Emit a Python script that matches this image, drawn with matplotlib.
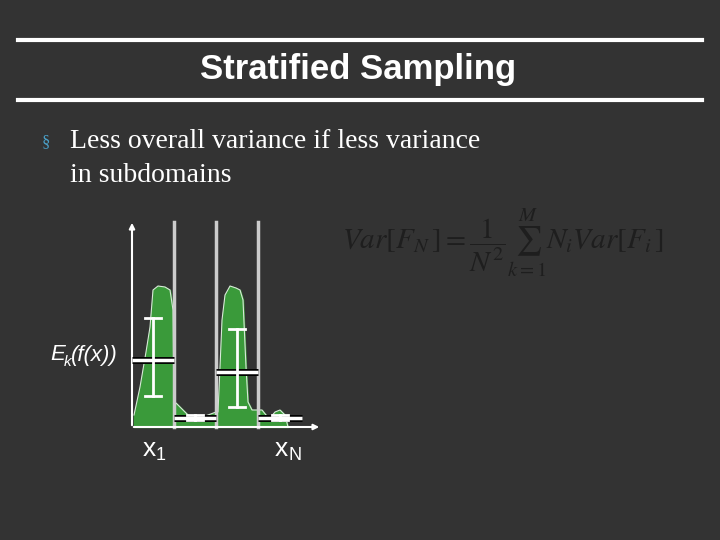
import numpy as np
import matplotlib.pyplot as plt

# density profile (x in px, height above axis in px)
prof_x = [134, 140, 146, 150, 153, 158, 165, 170, 173, 174,
          176, 183, 190, 200, 208, 216,
          218, 220, 222, 225, 230, 236, 240, 243, 246, 248, 252, 258,
          262, 266, 270, 275, 280, 285, 288]
prof_h = [12, 40, 75, 100, 137, 141, 140, 137, 117, 20,
          24, 17, 10, 9, 12, 15,
          15, 60, 107, 132, 141, 139, 137, 127, 60, 25, 17, 17,
          17, 12, 9, 15, 17, 12, 0]

# strata: left, right, mean, err low, err high (heights)
strata_l = [132, 174, 216, 258]
strata_r = [174, 216, 258, 302]
means = [67, 9, 55, 9]
err_lo = [31, 7, 20, 7]
err_hi = [109, 12, 98, 12]

plt.rcParams['mathtext.fontset'] = 'stix'
bg = '#333333'
fig = plt.figure(figsize=(7.2, 5.4), dpi=100, facecolor=bg)
ax = fig.add_axes([0, 0, 1, 1])
ax.set_xlim(0, 720)
ax.set_ylim(540, 0)
ax.axis('off')

base = 427
# header
ax.plot([18, 702], [40, 40], color='white', lw=3)
ax.plot([18, 702], [100, 100], color='white', lw=3)
ax.text(358, 70, 'Stratified Sampling', color='white', fontsize=25, fontweight='bold',
        family='Liberation Sans', ha='center', va='center')

ax.text(42, 142, '§', color='#4aa0c8', fontsize=12, family='Liberation Serif', va='center')
ax.text(70, 142, 'Less overall variance if less variance', color='white', fontsize=20,
        family='Liberation Serif', va='center')
ax.text(70, 175, 'in subdomains', color='white', fontsize=20,
        family='Liberation Serif', va='center')

# formula
ax.text(342, 243, r'$Var\left[F_N\,\right]=\dfrac{1}{N^2}\sum_{k=1}^{M}N_iVar\left[F_i\,\right]$',
        color='#1e1e1e', fontsize=21, va='center')

# density fill
ys = [base - h for h in prof_h]
ax.fill_between(prof_x, ys, base, color='#3a9a3a', zorder=2)
ax.plot(prof_x, ys, color='#d8e8d8', lw=0.8, zorder=3)

# strata dividers
for xv in [174, 216, 258]:
    ax.plot([xv, xv], [222, base], color='#cccccc', lw=2.5, zorder=4)

# axes
ax.annotate('', xy=(132, 220), xytext=(132, base + 1),
            arrowprops=dict(arrowstyle='-|>', color='white', lw=1.5, mutation_scale=8), zorder=5)
ax.annotate('', xy=(322, base), xytext=(131, base),
            arrowprops=dict(arrowstyle='-|>', color='white', lw=1.5, mutation_scale=8), zorder=5)

# means and error bars
for l, r, m, lo, hi in zip(strata_l, strata_r, means, err_lo, err_hi):
    c = (l + r) / 2
    ax.plot([l, r], [base - m, base - m], color='black', lw=5, zorder=6, solid_capstyle='butt')
    ax.plot([l, r], [base - m, base - m], color='white', lw=2.5, zorder=7, solid_capstyle='butt')
    ax.plot([c, c], [base - lo, base - hi], color='white', lw=2, zorder=7)
    for yv in [base - lo, base - hi]:
        ax.plot([c - 8, c + 8], [yv, yv], color='white', lw=2, zorder=7)

ax.text(50, 355, 'E', color='white', fontsize=16, style='italic', family='Liberation Sans', va='center')
ax.text(64, 362, 'k', color='white', fontsize=11, style='italic', family='Liberation Sans', va='center')
ax.text(71, 355, '(f(x))', color='white', fontsize=16, style='italic', family='Liberation Sans', va='center')

ax.text(143, 449, 'x', color='white', fontsize=19, family='Liberation Sans', va='center')
ax.text(156, 455, '1', color='white', fontsize=13, family='Liberation Sans', va='center')
ax.text(275, 449, 'x', color='white', fontsize=19, family='Liberation Sans', va='center')
ax.text(288, 455, 'N', color='white', fontsize=13, family='Liberation Sans', va='center')

fig.savefig('out.png', dpi=100, facecolor=bg)
